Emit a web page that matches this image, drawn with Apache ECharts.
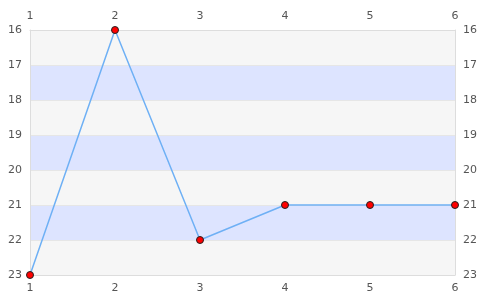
<!DOCTYPE html>
<html><head><meta charset="utf-8">
<script src="https://cdn.jsdelivr.net/npm/echarts@6/dist/echarts.min.js"></script>
<style>html,body{margin:0;padding:0;background:#fff}#c{width:485px;height:300px}</style>
</head><body><div id="c"></div>
<script>
const xValues = [1, 2, 3, 4, 5, 6];
const yValues = [23, 16, 22, 21, 21, 21];
const yMin = 16, yMax = 23;

const chart = echarts.init(document.getElementById('c'));
const lbl = {color: '#555', fontSize: 11, fontFamily: 'DejaVu Sans'};
const axLine = {show: true, lineStyle: {color: '#ddd'}};
function xAx(pos) {
  return {type: 'value', position: pos, min: 1, max: 6, interval: 1,
    axisLine: axLine, axisTick: {show: false}, splitLine: {show: false},
    axisLabel: Object.assign({margin: 8}, lbl)};
}
function yAx(pos, area) {
  return {type: 'value', position: pos, inverse: true, min: yMin, max: yMax, interval: 1,
    axisLine: axLine, axisTick: {show: false},
    splitLine: {show: area, lineStyle: {color: '#e6e6e6'}},
    splitArea: {show: area, areaStyle: {color: ['#f6f6f6', '#dde4ff']}},
    axisLabel: Object.assign({margin: 8}, lbl)};
}
chart.setOption({
  animation: false,
  grid: {left: 30, right: 30, top: 30, bottom: 25},
  xAxis: [xAx('bottom'), xAx('top')],
  yAxis: [yAx('left', true), yAx('right', false)],
  series: [{
    type: 'line',
    data: xValues.map((x, i) => [x, yValues[i]]),
    symbol: 'circle', symbolSize: 7,
    lineStyle: {color: '#6eb0f5', width: 1.5},
    itemStyle: {color: '#ff0000', borderColor: '#222', borderWidth: 1}
  }]
});
</script></body></html>
